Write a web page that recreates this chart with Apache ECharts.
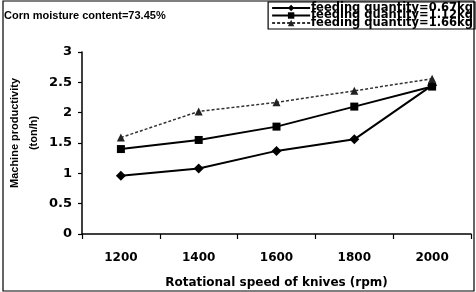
<!DOCTYPE html>
<html>
<head>
<meta charset="utf-8">
<script src="https://cdn.jsdelivr.net/npm/echarts@6/dist/echarts.min.js"></script>
<style>
  html, body { margin: 0; padding: 0; background: #fff; }
  #chart { width: 476px; height: 292px; }
</style>
</head>
<body>
<div id="chart"></div>
<script>
const speeds = ['1200', '1400', '1600', '1800', '2000']
const feed067 = [0.96, 1.08, 1.37, 1.56, 2.45]
const feed112 = [1.40, 1.55, 1.77, 2.10, 2.43]
const feed166 = [1.59, 2.02, 2.17, 2.36, 2.56]
const yTicks = [0, 0.5, 1, 1.5, 2, 2.5, 3]

const LIB = '"Liberation Sans", Arial, sans-serif'
const DJV = '"DejaVu Sans", sans-serif'
const chart = echarts.init(document.getElementById('chart'))

chart.setOption({
  backgroundColor: '#fff',
  animation: false,
  title: {
    text: 'Corn moisture content=73.45%',
    left: 0, top: 10, padding: [0, 0, 0, 4],
    textStyle: { fontFamily: LIB, fontSize: 11, fontWeight: 'bold', color: '#000' }
  },
  legend: {
    orient: 'vertical',
    right: 1, top: 2,
    padding: [0, 2, 0, 3],
    itemGap: -4.5,
    itemWidth: 38, itemHeight: 8,
    borderColor: '#000', borderWidth: 1.2,
    textStyle: { fontFamily: DJV, fontSize: 11.5, fontWeight: 'bold', color: '#000', padding: [0, 0, 0, -4] },
    data: ['feeding quantity=0.67kg', 'feeding quantity=1.12kg', 'feeding quantity=1.66kg']
  },
  grid: { left: 82, right: 5, top: 52, bottom: 58, outerBoundsMode: 'none' },
  xAxis: {
    type: 'category',
    data: speeds,
    boundaryGap: true,
    name: 'Rotational speed of knives (rpm)',
    nameLocation: 'middle',
    nameGap: 43,
    nameTextStyle: { fontFamily: DJV, fontSize: 12, fontWeight: 'bold', color: '#000' },
    axisLine: { lineStyle: { color: '#000', width: 1.5 } },
    axisTick: { show: true, length: 5, lineStyle: { color: '#000', width: 1.2 } },
    axisLabel: { fontFamily: DJV, fontSize: 12, fontWeight: 'bold', color: '#000', margin: 18 },
    splitLine: { show: false }
  },
  yAxis: {
    type: 'value',
    min: yTicks[0], max: yTicks[yTicks.length - 1], interval: 0.5,
    axisLine: { show: true, lineStyle: { color: '#000', width: 1.5 } },
    axisTick: { show: true, length: 4, lineStyle: { color: '#000', width: 1.2 } },
    axisLabel: { fontFamily: DJV, fontSize: 13, fontWeight: 'bold', color: '#000', margin: 10 },
    splitLine: { show: false }
  },
  graphic: [{
    type: 'rect',
    shape: { x: 3, y: 1, width: 471, height: 290 },
    style: { fill: 'none', stroke: '#000', lineWidth: 1.2 },
    silent: true
  }, {
    type: 'text',
    x: 24, y: 133,
    rotation: Math.PI / 2,
    style: {
      text: 'Machine productivity\n(ton/h)',
      font: 'bold 11px "Liberation Sans", Arial, sans-serif',
      fill: '#000',
      align: 'center', verticalAlign: 'middle',
      lineHeight: 19
    },
    silent: true
  }],
  series: [
    {
      name: 'feeding quantity=0.67kg', type: 'line',
      data: feed067,
      symbol: 'diamond', symbolSize: 10,
      lineStyle: { color: '#000', width: 2 },
      itemStyle: { color: '#000' }
    }, {
      name: 'feeding quantity=1.12kg', type: 'line',
      data: feed112,
      symbol: 'rect', symbolSize: 8,
      lineStyle: { color: '#000', width: 2 },
      itemStyle: { color: '#000' }
    }, {
      name: 'feeding quantity=1.66kg', type: 'line',
      data: feed166,
      symbol: 'triangle', symbolSize: 8,
      lineStyle: { color: '#333', width: 1.5, type: [3, 2] },
      itemStyle: { color: '#222' }
    }
  ]
})
</script>
</body>
</html>
